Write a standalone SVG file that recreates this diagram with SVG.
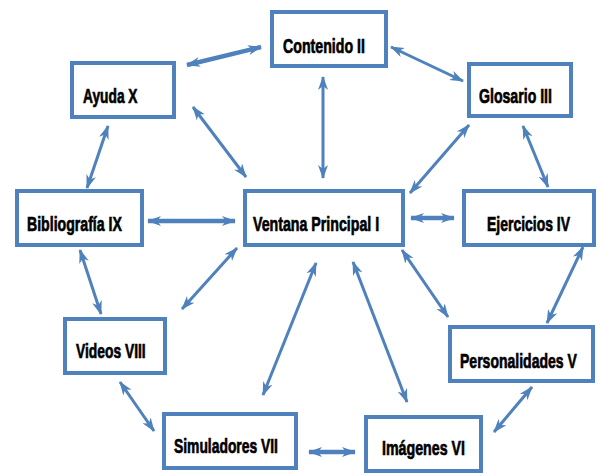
<svg xmlns="http://www.w3.org/2000/svg" width="600" height="475" viewBox="0 0 600 475">
<style>
.box{fill:#fff;stroke:#4F81BD;stroke-width:4}
.lbl{font-family:"Liberation Sans",Arial,sans-serif;font-weight:bold;font-size:21px;fill:#000;stroke:#000;stroke-width:0.7}
.c{fill:none;stroke:#4F81BD;stroke-width:3;marker-start:url(#ah);marker-end:url(#ah)}
.t{stroke-width:4.5}
</style>
<defs>
<marker id="ah" markerUnits="userSpaceOnUse" markerWidth="16" markerHeight="12" refX="13" refY="5" orient="auto-start-reverse" viewBox="0 0 16 10">
<path d="M0,0 L14,5 L0,10 L4,5 z" fill="#4F81BD"/>
</marker>
</defs>
<rect width="600" height="475" fill="#fff"/>
<g id="connectors">
<line class="c t" x1="187" y1="65" x2="261" y2="47"/>
<line class="c" x1="391" y1="47" x2="463" y2="81"/>
<line class="c" x1="323" y1="77" x2="323" y2="178"/>
<line class="c" x1="193" y1="107" x2="246" y2="177"/>
<line class="c" x1="469" y1="125" x2="410" y2="193"/>
<line class="c" x1="523" y1="126" x2="548" y2="187"/>
<line class="c" x1="108" y1="126" x2="87" y2="188"/>
<line class="c t" x1="148" y1="221" x2="235" y2="221"/>
<line class="c t" x1="411" y1="218" x2="454" y2="218"/>
<line class="c" x1="80" y1="250" x2="101" y2="314"/>
<line class="c" x1="237" y1="248" x2="182" y2="309"/>
<line class="c" x1="316" y1="263" x2="263" y2="395"/>
<line class="c" x1="353" y1="262" x2="407" y2="402"/>
<line class="c" x1="402" y1="250" x2="448" y2="317"/>
<line class="c" x1="583" y1="247" x2="547" y2="323"/>
<line class="c" x1="532" y1="387" x2="494" y2="432"/>
<line class="c t" x1="309" y1="452" x2="355" y2="452"/>
<line class="c" x1="120" y1="382" x2="154" y2="431"/>
</g>
<g id="contenido"><rect class="box" x="272" y="12" width="114" height="54"/><text class="lbl" transform="translate(283,53) scale(0.676,1)">Contenido II</text></g>
<g id="ayuda"><rect class="box" x="72" y="63" width="102" height="54"/><text class="lbl" transform="translate(83,103) scale(0.655,1)">Ayuda X</text></g>
<g id="glosario"><rect class="box" x="469" y="64" width="102" height="52"/><text class="lbl" transform="translate(479,103) scale(0.673,1)">Glosario III</text></g>
<g id="bibliografia"><rect class="box" x="17" y="191" width="125" height="54"/><text class="lbl" transform="translate(27,231) scale(0.673,1)">Bibliografía IX</text></g>
<g id="ventana"><rect class="box" x="245" y="191" width="158" height="54"/><text class="lbl" transform="translate(253,231) scale(0.676,1)">Ventana Principal I</text></g>
<g id="ejercicios"><rect class="box" x="464" y="191" width="130" height="54"/><text class="lbl" transform="translate(487,231) scale(0.665,1)">Ejercicios IV</text></g>
<g id="videos"><rect class="box" x="65" y="319" width="100" height="54"/><text class="lbl" transform="translate(76,358) scale(0.659,1)">Videos VIII</text></g>
<g id="simuladores"><rect class="box" x="164" y="414" width="132" height="54"/><text class="lbl" transform="translate(174,453) scale(0.66,1)">Simuladores VII</text></g>
<g id="personalidades"><rect class="box" x="450" y="327" width="143" height="54"/><text class="lbl" transform="translate(460,368) scale(0.668,1)">Personalidades V</text></g>
<g id="imagenes"><rect class="box" x="366" y="417" width="115" height="54"/><text class="lbl" transform="translate(382,455) scale(0.677,1)">Imágenes VI</text></g>
</svg>
